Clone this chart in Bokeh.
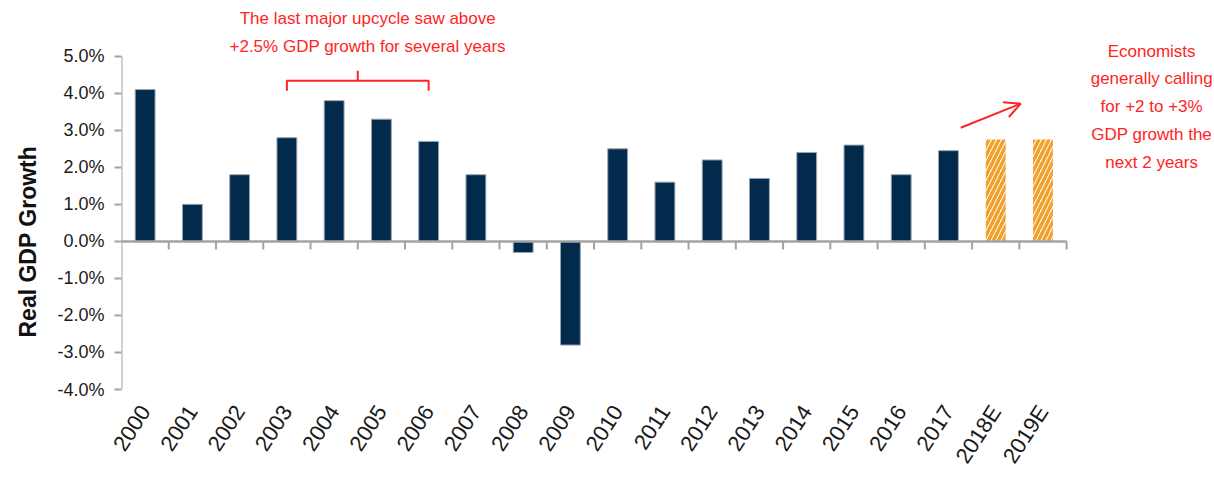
from bokeh.plotting import figure
from bokeh.models import (Range1d, FixedTicker, PrintfTickFormatter, Label, Arrow,
                          OpenHead, Title)
from bokeh.embed import file_html
from bokeh.resources import INLINE

# ---- data ----
years_actual = ["2000", "2001", "2002", "2003", "2004", "2005", "2006", "2007", "2008",
                "2009", "2010", "2011", "2012", "2013", "2014", "2015", "2016", "2017"]
gdp_actual = [4.1, 1.0, 1.8, 2.8, 3.8, 3.3, 2.7, 1.8, -0.3,
              -2.8, 2.5, 1.6, 2.2, 1.7, 2.4, 2.6, 1.8, 2.45]
years_est = ["2018E", "2019E"]
gdp_est = [2.75, 2.75]
categories = years_actual + years_est
y_ticks = [-4, -3, -2, -1, 0, 1, 2, 3, 4, 5]
y_label = "Real GDP Growth"
note_top = ["The last major upcycle saw above", "+2.5% GDP growth for several years"]
note_right = ["Economists", "generally calling", "for +2 to +3%", "GDP growth the", "next 2 years"]

RED = "#ff2424"
NAVY = "#022a4d"
ORANGE = "#f2a02a"
AXIS = "#a3a3a3"
FONT = "Liberation Sans"

n = len(categories)
x_act = [categories.index(c) for c in years_actual]
x_est = [categories.index(c) for c in years_est]

p = figure(x_range=Range1d(-0.5, 22.63), y_range=Range1d(-4, 6.505),
           width=1214, height=480, output_backend="svg", toolbar_location=None,
           min_border_left=121, min_border_right=0, min_border_top=0, min_border_bottom=91)
p.outline_line_color = None
p.xgrid.visible = False
p.ygrid.visible = False
p.background_fill_color = "white"
p.border_fill_color = "white"

# y axis (line drawn only over the tick span)
p.yaxis.ticker = FixedTicker(ticks=y_ticks)
p.yaxis.formatter = PrintfTickFormatter(format="%.1f%%")
p.yaxis.axis_line_color = None
p.yaxis.major_tick_line_color = AXIS
p.yaxis.major_tick_line_width = 2
p.yaxis.major_tick_out = 7
p.yaxis.major_tick_in = 0
p.yaxis.minor_tick_line_color = None
p.yaxis.major_label_text_font = FONT
p.yaxis.major_label_text_font_size = "18px"
p.yaxis.major_label_text_color = "#1a1a1a"
p.yaxis.major_label_standoff = 10
p.segment(x0=[-0.5], y0=[min(y_ticks)], x1=[-0.5], y1=[max(y_ticks)],
          line_color=AXIS, line_width=2)
p.add_layout(Title(text=y_label, align="left", vertical_align="top", offset=52, standoff=24,
                   text_font=FONT, text_font_style="bold",
                   text_font_size="23px", text_color="#111111"), "left")

# x axis (labels only)
p.xaxis.ticker = FixedTicker(ticks=list(range(n)))
p.xaxis.major_label_overrides = {i: c for i, c in enumerate(categories)}
p.xaxis.axis_line_color = None
p.xaxis.major_tick_line_color = None
p.xaxis.minor_tick_line_color = None
p.xaxis.major_tick_out = 0
p.xaxis.major_tick_in = 0
p.xaxis.major_label_orientation = 0.995
p.xaxis.major_label_text_font = FONT
p.xaxis.major_label_text_font_size = "22px"
p.xaxis.major_label_text_color = "#1a1a1a"
p.xaxis.major_label_standoff = 18

# bars
p.vbar(x=x_act, top=gdp_actual, width=0.42, fill_color=NAVY,
       line_color="#9aa4ae", line_width=1)
p.vbar(x=x_est, top=gdp_est, width=0.42, fill_color="white", line_color=None,
       hatch_pattern="/", hatch_color=ORANGE, hatch_scale=10, hatch_weight=3.5)

# zero line with category-boundary ticks
p.segment(x0=[-0.5], y0=[0], x1=[n - 0.5], y1=[0], line_color=AXIS, line_width=2.5)
bounds = [i + 0.5 for i in range(n)]
p.segment(x0=bounds, y0=[0] * n, x1=bounds, y1=[-0.22] * n, line_color=AXIS, line_width=2)

# top note with bracket from 2003 to 2006
i0 = categories.index("2003")
i1 = categories.index("2006")
mid = (i0 + i1) / 2
p.line(x=[i0, i0, i1, i1], y=[4.07, 4.34, 4.34, 4.07], line_color=RED, line_width=2)
p.line(x=[mid, mid], y=[4.34, 4.61], line_color=RED, line_width=2)
for k, t in enumerate(note_top):
    p.add_layout(Label(x=4.71, y=6.02 - 0.77 * k, text=t, text_align="center",
                       text_baseline="middle", text_font=FONT,
                       text_font_size="17px", text_color=RED))

# right note with arrow
p.add_layout(Arrow(end=OpenHead(size=16, line_color=RED, line_width=2),
                   x_start=17.26, y_start=3.07, x_end=18.53, y_end=3.72,
                   line_color=RED, line_width=2))
for k, t in enumerate(note_right):
    p.add_layout(Label(x=21.3, y=5.135 - 0.749 * k, text=t, text_align="center",
                       text_baseline="middle", text_font=FONT,
                       text_font_size="17px", text_color=RED))

open("out.html", "w").write(file_html(p, INLINE))
